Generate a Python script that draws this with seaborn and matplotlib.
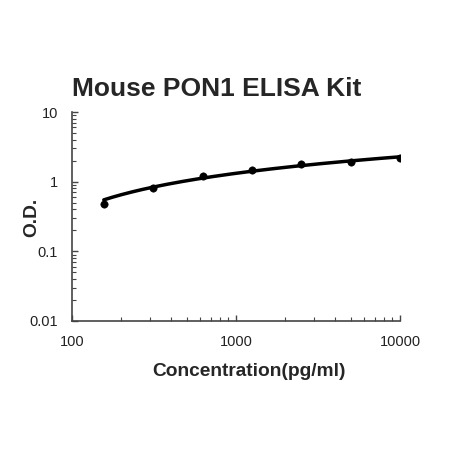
import numpy as np
import pandas as pd
import seaborn as sns
import matplotlib
matplotlib.use("Agg")
import matplotlib.pyplot as plt
from matplotlib.ticker import LogLocator, FixedLocator, NullFormatter

conc = [156.25, 312.5, 625, 1250, 2500, 5000, 10000]
od = [0.48, 0.80, 1.19, 1.48, 1.78, 1.94, 2.21]
title = "Mouse PON1 ELISA Kit"
xlabel = "Concentration(pg/ml)"
ylabel = "O.D."
xticks = [100, 1000, 10000]
yticks = [0.01, 0.1, 1, 10]
ytick_labels = ["0.01", "0.1", "1", "10"]

sns.set_theme(style="white")
plt.rcParams['font.family'] = ['Liberation Sans', 'DejaVu Sans']

df = pd.DataFrame({"conc": conc, "od": od})

# logarithmic fit y = a + b*ln(x), computed from the data
coef = np.polyfit(np.log(df.conc), df.od, 1)
xs = np.logspace(np.log10(conc[0]), np.log10(conc[-1]), 200)
ys = np.polyval(coef, np.log(xs))
fit = pd.DataFrame({"conc": xs, "od": ys})

fig = plt.figure(figsize=(4.5, 4.5), dpi=100)
ax = fig.add_axes([72/450, 1-321/450, (400-72)/450, (321-112)/450])

sns.lineplot(data=fit, x="conc", y="od", ax=ax, color="black", linewidth=2.5)
sns.scatterplot(data=df, x="conc", y="od", ax=ax, color="black", s=28, edgecolor="black", zorder=5)

ax.set_xscale("log")
ax.set_yscale("log")
ax.set_xlim(100, 10000)
ax.set_ylim(0.01, 10)
ax.xaxis.set_major_locator(FixedLocator(xticks))
ax.set_xticklabels([str(t) for t in xticks])
ax.yaxis.set_major_locator(FixedLocator(yticks))
ax.set_yticklabels(ytick_labels)
ax.xaxis.set_minor_locator(LogLocator(base=10, subs=np.arange(2, 10)))
ax.yaxis.set_minor_locator(LogLocator(base=10, subs=np.arange(2, 10)))
ax.xaxis.set_minor_formatter(NullFormatter())
ax.yaxis.set_minor_formatter(NullFormatter())

for s in ["top", "right"]:
    ax.spines[s].set_visible(False)
for s in ["left", "bottom"]:
    ax.spines[s].set_color("#444444")
    ax.spines[s].set_linewidth(1.2)

ax.tick_params(axis="both", which="major", direction="in", length=4, width=1,
               color="#444444", labelsize=10.5, labelcolor="#222222", bottom=True, left=True, pad=10)
ax.tick_params(axis="both", which="minor", direction="in", length=3, width=0.8,
               color="#444444", bottom=True, left=True)

ax.set_xlabel("")
ax.set_ylabel("")
fig.text(249/450, 1-372/450, xlabel, ha="center", va="center", fontsize=13.8, fontweight="bold")
fig.text(32/450, 1-217/450, ylabel, ha="center", va="center", fontsize=13.8, fontweight="bold", rotation=90)
fig.text(217/450, 1-89/450, title, ha="center", va="center", fontsize=19, fontweight="bold")

fig.savefig("out.png", dpi=100)
